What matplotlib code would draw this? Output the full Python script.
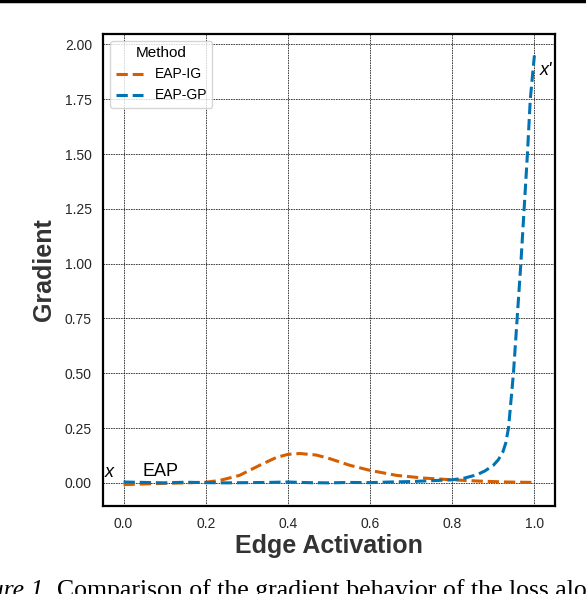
import matplotlib
matplotlib.use("Agg")
import matplotlib.pyplot as plt
from matplotlib.lines import Line2D

# データ
method_names = ["EAP-IG", "EAP-GP"]

ig_x = [0.0, 0.05, 0.1, 0.15, 0.2, 0.234, 0.282, 0.331, 0.372, 0.4, 0.429,
        0.469, 0.501, 0.551, 0.6, 0.665, 0.73, 0.8, 0.867, 0.93, 1.0]
ig_y = [-0.008, -0.005, -0.002, 0.0, 0.003, 0.011, 0.034, 0.08, 0.116, 0.13, 0.134,
        0.127, 0.111, 0.08, 0.057, 0.034, 0.022, 0.014, 0.008, 0.004, 0.002]

gp_x = [0.0, 0.05, 0.1, 0.15, 0.2, 0.25, 0.3, 0.35, 0.4, 0.45, 0.5, 0.55, 0.6,
        0.65, 0.7, 0.75, 0.8, 0.83, 0.86, 0.88, 0.9, 0.912, 0.923, 0.93, 0.937,
        0.949, 0.958, 0.967, 0.975, 0.983, 0.99, 1.0]
gp_y = [0.004, 0.002, 0.0, 0.003, 0.001, 0.0, 0.001, 0.002, 0.004, 0.001, 0.0,
        0.002, 0.001, 0.004, 0.006, 0.01, 0.014, 0.022, 0.037, 0.055, 0.08,
        0.105, 0.14, 0.18, 0.25, 0.5, 0.75, 1.0, 1.25, 1.5, 1.75, 1.95]

x_ticks = [0.0, 0.2, 0.4, 0.6, 0.8, 1.0]
y_ticks = [0.0, 0.25, 0.5, 0.75, 1.0, 1.25, 1.5, 1.75, 2.0]

colors = ["#D55E00", "#0173B2"]

plt.rcParams["font.family"] = ["Liberation Sans", "DejaVu Sans"]

fig = plt.figure(figsize=(5.86, 5.94), dpi=100)
ax = fig.add_axes([0.1758, 0.148, 0.7712, 0.7948])

ax.plot(ig_x, ig_y, linestyle="--", color=colors[0], linewidth=2.2, label=method_names[0])
ax.plot(gp_x, gp_y, linestyle="--", color=colors[1], linewidth=2.2, label=method_names[1])

ax.set_xticks(x_ticks)
ax.set_yticks(y_ticks)
ax.set_yticklabels([f"{v:.2f}" for v in y_ticks])
ax.tick_params(length=0, pad=8, labelsize=10, labelcolor="#262626")

ax.grid(True, color="black", linestyle=(0, (2, 1)), linewidth=0.6, alpha=0.85)
for s in ax.spines.values():
    s.set_color("black")
    s.set_linewidth(1.6)

ax.set_xlabel("Edge Activation", fontsize=18, fontweight="bold", color="#333333", labelpad=2)
ax.set_ylabel("Gradient", fontsize=18, fontweight="bold", color="#333333", labelpad=6)

ax.text(-0.034, 0.046, "x", fontsize=13, style="italic", ha="center", va="center")
ax.text(0.046, 0.05, "EAP", fontsize=13, ha="left", va="center")
ax.text(1.012, 1.88, "x'", fontsize=13, style="italic", ha="left", va="center")

leg = ax.legend(title="Method", loc="upper left", fontsize=10, title_fontsize=11,
                frameon=True, fancybox=True)
leg.get_frame().set_edgecolor("#cccccc")

# 上の罫線とキャプション（切れている部分）
fig.add_artist(Line2D([0, 1], [0.998, 0.998], color="black", linewidth=2.5,
                      transform=fig.transFigure))
fig.text(50 / 586, -3 / 594, "Figure 1.", fontsize=18.5, family="Liberation Serif",
         style="italic", ha="right", va="baseline")
fig.text(57 / 586, -3 / 594, "Comparison of the gradient behavior of the loss along",
         fontsize=18.5, family="Liberation Serif", ha="left", va="baseline")

plt.savefig("out.png", dpi=100)
